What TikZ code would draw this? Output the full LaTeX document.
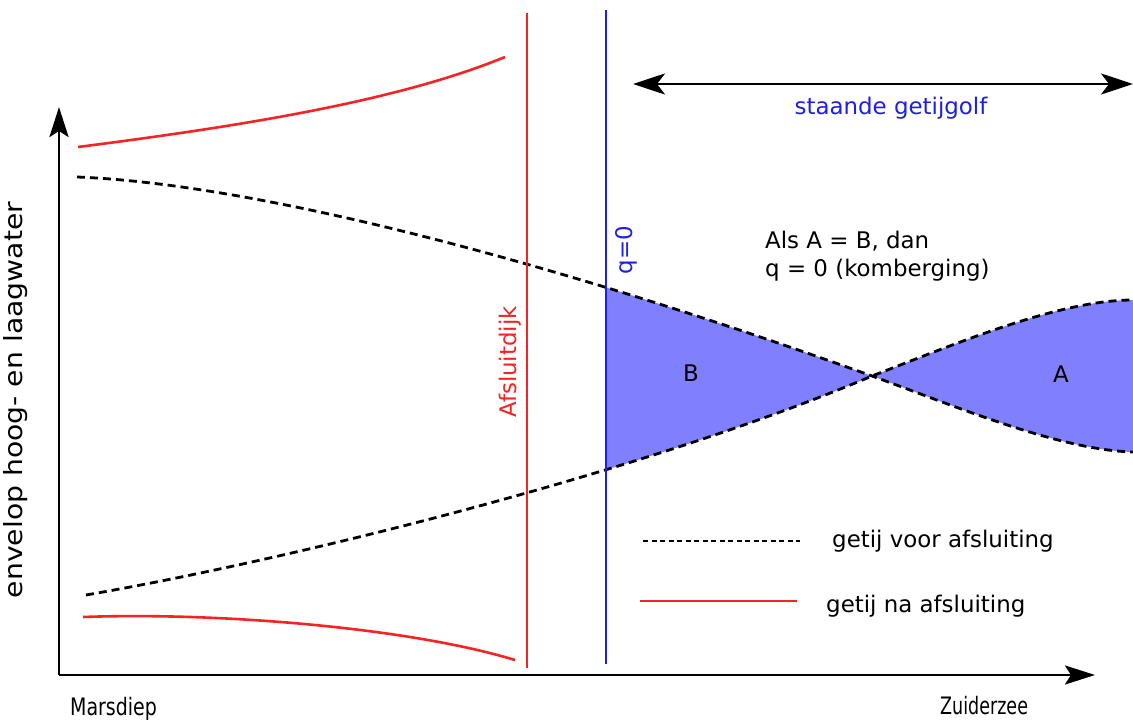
\documentclass[tikz,border=0pt]{standalone}
\usepackage{fontspec}
\setmainfont{DejaVu Sans}
\usetikzlibrary{arrows.meta}
\definecolor{myred}{RGB}{245,35,35}
\definecolor{myblue}{RGB}{30,30,230}
\definecolor{fillblue}{RGB}{128,128,255}
\begin{document}
\begin{tikzpicture}[x=1pt,y=-1pt,
  txt/.style={font=\fontsize{22.9}{28}\selectfont, inner sep=0pt},
  axisline/.style={line width=2.8pt, -{Stealth[length=30pt,width=19pt,inset=6pt]}},
  redline/.style={draw=myred, line width=2.6pt},
  blueline/.style={draw=myblue, line width=2.6pt},
  dashcurve/.style={line width=2.8pt, dash pattern=on 8pt off 5pt},
]
\useasboundingbox (0,0) rectangle (1133,720);
% axes
\coordinate (O) at (59,675);
\coordinate (Ytip) at (59,107);
\coordinate (Xtip) at (1095,675);
\draw[axisline] (O) -- (Ytip);
\draw[axisline] (O) -- (Xtip);
% envelope key points
\coordinate (U0) at (77,177);
\coordinate (L0) at (86,595);
\coordinate (X) at (872,376);
\coordinate (U1) at (1133,452);
\coordinate (L1) at (1133,300);
% blue fill between envelopes, right of q=0
\begin{scope}
\clip (607,0) rectangle (1133,720);
\fill[fillblue] (U0) .. controls (255,184) and (550,260) .. (X)
  .. controls (960,408) and (1060,450) .. (U1) -- (L1)
  .. controls (1060,300) and (960,342) .. (X)
  .. controls (650,470) and (300,558) .. (L0) -- cycle;
\end{scope}
% dashed envelopes before closure
\draw[dashcurve] (U0) .. controls (255,184) and (550,260) .. (X) .. controls (960,408) and (1060,450) .. (U1);
\draw[dashcurve] (L0) .. controls (300,558) and (650,470) .. (X) .. controls (960,342) and (1060,300) .. (L1);
% red envelopes after closure
\coordinate (R0) at (78,147);
\coordinate (R1) at (505,57);
\coordinate (R2) at (83,617);
\coordinate (R3) at (515,660);
\draw[redline] (R0) .. controls (250,125) and (400,100) .. (R1);
\draw[redline] (R2) .. controls (220,612) and (410,628) .. (R3);
% vertical lines
\coordinate (dtop) at (527,13);
\coordinate (dbot) at (527,668);
\coordinate (qtop) at (606,10);
\coordinate (qbot) at (606,664);
\draw[redline] (dtop) -- (dbot);
\draw[blueline] (qtop) -- (qbot);
% standing wave arrow
\coordinate (sL) at (633,84);
\coordinate (sR) at (1133,84);
\draw[line width=2.6pt, {Stealth[length=32pt,width=21pt,inset=8pt]}-{Stealth[length=32pt,width=21pt,inset=8pt]}] (sL) -- (sR);
\node[txt, text=myblue, anchor=base] (staande) at (891,114) {staande getijgolf};
% labels
\node[txt, text=myblue, rotate=90, anchor=base] (q0) at (632,250) {q=0};
\node[txt, text=myred, rotate=90, anchor=base] (afsl) at (516,362) {Afsluitdijk};
\node[txt, anchor=base west] (als1) at (765,248) {Als A = B, dan};
\node[txt, anchor=base west] (als2) at (765,276) {q = 0 (komberging)};
\node[txt] (B) at (691,373) {B};
\node[txt] (A) at (1061,374) {A};
% legend
\coordinate (l1a) at (643,541);
\coordinate (l1b) at (800,541);
\coordinate (l2a) at (640,601);
\coordinate (l2b) at (797,601);
\draw[line width=1.9pt, dash pattern=on 5pt off 3.5pt] (l1a) -- (l1b);
\draw[redline] (l2a) -- (l2b);
\node[txt, anchor=base west] (leg1) at (832,547) {getij voor afsluiting};
\node[txt, anchor=base west] (leg2) at (826,612) {getij na afsluiting};
% axis labels
\node[inner sep=0pt, rotate=90, anchor=base, font=\fontsize{25}{30}\selectfont] (ylab) at (23,400) {\scalebox{1.13}[1]{envelop hoog- en laagwater}};
\node[inner sep=0pt, anchor=base west, font=\fontsize{24}{28}\selectfont] (mars) at (70,715) {\scalebox{0.79}[1]{Marsdiep}};
\node[inner sep=0pt, anchor=base west, font=\fontsize{24}{28}\selectfont] (zuid) at (940,714) {\scalebox{0.73}[1]{Zuiderzee}};
\end{tikzpicture}
\end{document}
